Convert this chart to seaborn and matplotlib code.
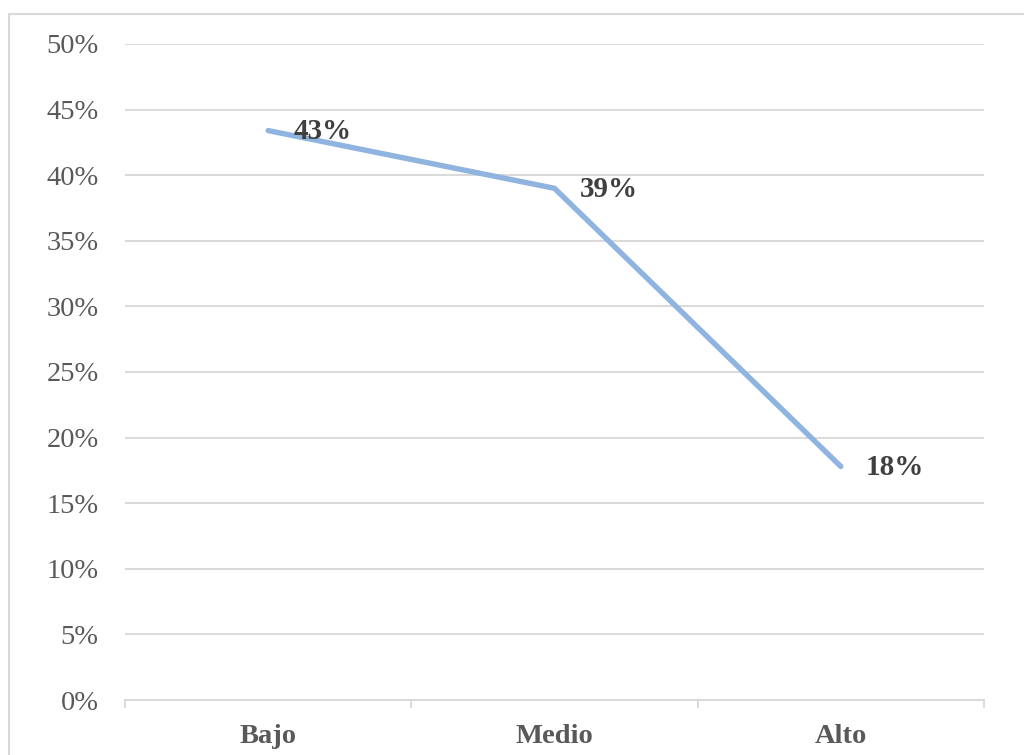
import matplotlib
matplotlib.use("Agg")
import matplotlib.pyplot as plt
from matplotlib.patches import Rectangle
from matplotlib.ticker import PercentFormatter, FixedLocator
import seaborn as sns
import pandas as pd

categories = ["Bajo", "Medio", "Alto"]
values = [0.434, 0.39, 0.178]

sns.set_theme(style="white")
plt.rcParams["font.family"] = ["Liberation Serif", "DejaVu Serif"]

df = pd.DataFrame({"nivel": categories, "valor": values})

fig = plt.figure(figsize=(10.24, 7.55), dpi=100)
ax = fig.add_axes([125 / 1024, 1 - 700 / 755, (984 - 125) / 1024, (700 - 44) / 755])

grid_c = "#D9D9D9"
line_c = "#8FB4E0"

sns.lineplot(data=df, x="nivel", y="valor", ax=ax, color=line_c, linewidth=3.9,
             sort=False, solid_capstyle="round", zorder=3)

ax.set_xlim(-0.5, len(categories) - 0.5)
ax.set_ylim(0, 0.5)
ax.set_yticks([i * 0.05 for i in range(11)])
ax.yaxis.set_major_formatter(PercentFormatter(1.0, decimals=0))
ax.yaxis.grid(True, color=grid_c, linewidth=1.4)
ax.set_axisbelow(True)

ax.set_xticks(range(len(categories)))
ax.set_xticklabels(categories, fontweight="bold")
ax.xaxis.set_minor_locator(FixedLocator([i - 0.5 for i in range(len(categories) + 1)]))
ax.tick_params(axis="x", which="major", length=0, pad=17, labelsize=20.5, labelcolor="#595959")
ax.tick_params(axis="x", which="minor", length=6, width=1.4, color=grid_c, direction="out", bottom=True)
ax.tick_params(axis="y", length=0, pad=19, labelsize=20.5, labelcolor="#595959")

for side in ["top", "right", "left"]:
    ax.spines[side].set_visible(False)
ax.spines["bottom"].set_color(grid_c)
ax.spines["bottom"].set_linewidth(1.4)

ax.set_xlabel("")
ax.set_ylabel("")

for i, v in enumerate(values):
    ax.annotate(f"{v * 100:.0f}%", xy=(i, v), xytext=(18, -1), textcoords="offset points",
                ha="left", va="center", fontsize=21, fontweight="bold", color="#404040", zorder=4)

fig.patches.append(Rectangle((9 / 1024, -0.01), 1.0, 1 - 14 / 755 + 0.01,
                             transform=fig.transFigure, fill=False,
                             edgecolor=grid_c, linewidth=1.5))

fig.savefig("out.png", dpi=100)
